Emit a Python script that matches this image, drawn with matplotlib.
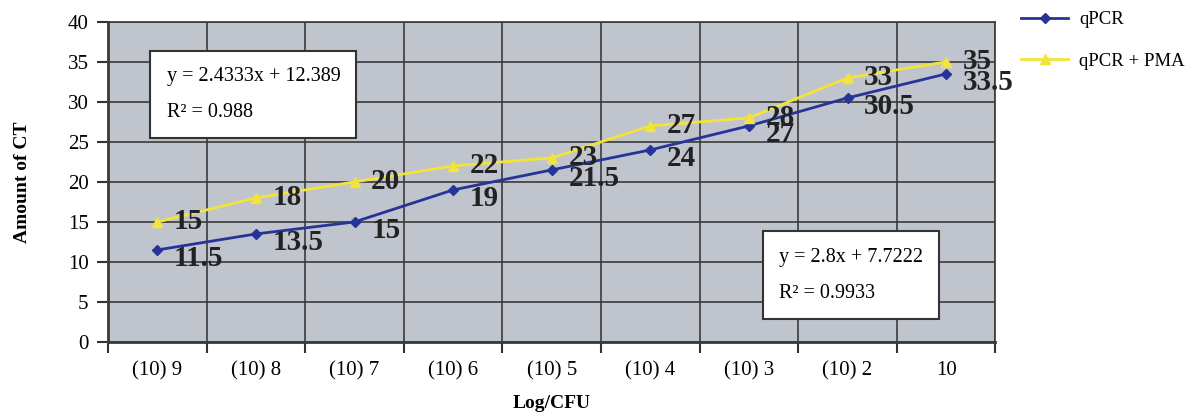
import numpy as np
import matplotlib.pyplot as plt

categories = ['(10) 9', '(10) 8', '(10) 7', '(10) 6', '(10) 5', '(10) 4', '(10) 3', '(10) 2', '10']
qpcr = [11.5, 13.5, 15, 19, 21.5, 24, 27, 30.5, 33.5]
qpcr_pma = [15, 18, 20, 22, 23, 27, 28, 33, 35]
qpcr_labels = ['11.5', '13.5', '15', '19', '21.5', '24', '27', '30.5', '33.5']
pma_labels = ['15', '18', '20', '22', '23', '27', '28', '33', '35']

serif = ['Liberation Serif', 'DejaVu Serif']
plt.rcParams['font.family'] = serif

fig = plt.figure(figsize=(11.96, 4.13), dpi=100)
ax = fig.add_axes([0.0903, 0.172, 0.742, 0.775])
ax.set_facecolor('#c0c4cc')

x = np.arange(len(categories))
ax.plot(x, qpcr, color='#26349a', lw=2, marker='D', ms=5, label='qPCR', zorder=3)
ax.plot(x, qpcr_pma, color='#f2e43a', lw=2, marker='^', ms=7, label='qPCR + PMA', zorder=3)

for xi, v, t in zip(x, qpcr, qpcr_labels):
    ax.annotate(t, (xi, v), xytext=(12, -6), textcoords='offset points',
                fontsize=21, fontweight='bold', color='#222222', va='center', ha='left')
for xi, v, t in zip(x, qpcr_pma, pma_labels):
    ax.annotate(t, (xi, v), xytext=(12, 0), textcoords='offset points',
                fontsize=21, fontweight='bold', color='#222222', va='center', ha='left')

ax.set_xlim(-0.5, len(categories) - 0.5)
ax.set_ylim(0, 40)
ax.set_yticks(range(0, 41, 5))
ax.set_xticks(x)
ax.set_xticklabels(categories)
ax.set_xticks(np.arange(-0.5, len(categories), 1), minor=True)
ax.tick_params(axis='x', which='major', length=0, pad=14, labelsize=15)
ax.tick_params(axis='x', which='minor', length=8, width=1.5, color='#333333')
ax.tick_params(axis='y', length=8, width=1.5, color='#333333', labelsize=15, pad=6)
ax.grid(True, which='minor', axis='x', color='#3a3a3a', lw=1.2)
ax.grid(True, which='major', axis='y', color='#3a3a3a', lw=1.2)
for s in ax.spines.values():
    s.set_color('#3a3a3a')
    s.set_linewidth(1.2)
ax.spines['left'].set_linewidth(2)
ax.spines['bottom'].set_linewidth(2)

ax.set_ylabel('Amount of CT', fontsize=14, fontweight='bold', labelpad=26)
ax.set_xlabel('Log/CFU', fontsize=14, fontweight='bold', labelpad=10)

# trendline equation boxes
ax.text(0.066, 0.773, 'y = 2.4333x + 12.389\n\nR² = 0.988', transform=ax.transAxes,
        fontsize=14.5, va='center', ha='left', linespacing=0.95,
        bbox=dict(boxstyle='square,pad=0.8', fc='white', ec='#333333', lw=1.5), zorder=5)
ax.text(0.756, 0.208, 'y = 2.8x + 7.7222\n\nR² = 0.9933', transform=ax.transAxes,
        fontsize=14.5, va='center', ha='left', linespacing=0.95,
        bbox=dict(boxstyle='square,pad=0.8', fc='white', ec='#333333', lw=1.5), zorder=5)

ax.legend(loc='upper left', bbox_to_anchor=(1.012, 1.08), frameon=False, fontsize=13.5,
          handlelength=2.5, handletextpad=0.6, labelspacing=1.3, borderaxespad=0.4)

fig.savefig('out.png', dpi=100)
